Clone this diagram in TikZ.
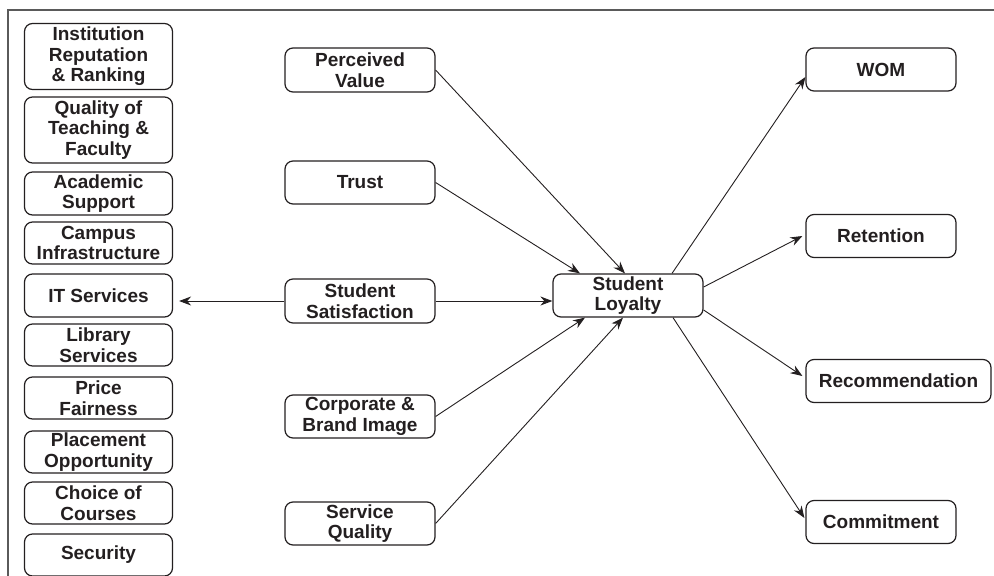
\documentclass[tikz,border=0pt]{standalone}
\usepackage{fontspec}
\setmainfont{Liberation Sans}
\usetikzlibrary{arrows.meta}
\definecolor{ink}{HTML}{231F20}
\definecolor{frame}{HTML}{5A5A5A}
\begin{document}
\begin{tikzpicture}[x=1pt,y=-1pt,
  box/.style={draw=ink,line width=1.2pt,rounded corners=8pt,inner sep=0pt,
    align=center,text=ink,font=\bfseries\fontsize{19}{20.5}\selectfont},
  lbox/.style={box,minimum width=148pt,minimum height=42pt},
  lbig/.style={box,minimum width=148pt,minimum height=66pt},
  mbox/.style={box,minimum width=150pt,minimum height=43pt},
  conn/.style={draw=ink,line width=0.9pt,-{Stealth[length=12pt,width=9pt]}}]
\useasboundingbox (0,0) rectangle (994,576);
% frame (clipped)
\draw[frame,line width=1.6pt] (8,576) -- (8,10) -- (994,10);
% left column
\node[lbig] (irr) at (98.5,56.5) {Institution\\Reputation\\\& Ranking};
\node[lbig] (qtf) at (98.5,130) {Quality of\\Teaching \&\\Faculty};
\node[lbox,minimum height=43pt] (acs) at (98.5,193.5) {Academic\\Support};
\node[lbox] (cin) at (98.5,243) {Campus\\Infrastructure};
\node[lbox,minimum height=43pt] (its) at (98.5,295.5) {IT Services};
\node[lbox] (lib) at (98.5,345) {Library\\Services};
\node[lbox] (prf) at (98.5,398) {Price\\Fairness};
\node[lbox] (plo) at (98.5,452) {Placement\\Opportunity};
\node[lbox] (coc) at (98.5,503) {Choice of\\Courses};
\node[lbox] (sec) at (98.5,555) {Security};
% middle column
\node[mbox,minimum height=44pt] (pv) at (360,70) {Perceived\\Value};
\node[mbox] (tr) at (360,182.5) {Trust};
\node[mbox,minimum height=44pt] (ss) at (360,301) {Student\\Satisfaction};
\node[mbox] (cbi) at (360,416.5) {Corporate \&\\Brand Image};
\node[mbox] (sq) at (360,523.5) {Service\\Quality};
% centre
\node[mbox] (sl) at (628,295.5) {Student\\Loyalty};
% right column
\node[mbox] (wom) at (881,69.5) {WOM};
\node[mbox] (ret) at (881,236) {Retention};
\node[mbox,minimum width=185pt] (rec) at (898.5,381) {Recommendation};
\node[mbox] (com) at (881,522) {Commitment};
% connectors
\draw[conn] (pv.east) -- ([xshift=-3pt]sl.north);
\draw[conn] (tr.east) -- ([xshift=-48pt]sl.north);
\draw[conn] (ss.east) -- (sl.west |- ss.east);
\draw[conn] (ss.west) -- ([xshift=6pt]its.east |- ss.west);
\draw[conn] (cbi.east) -- ([xshift=-43pt]sl.south);
\draw[conn] (sq.east) -- ([xshift=-5pt]sl.south);
\draw[conn] ([xshift=44pt]sl.north) -- ([yshift=-7.5pt]wom.west);
\draw[conn] ([yshift=8.5pt]sl.east) -- ([xshift=-3pt]ret.west);
\draw[conn] ([yshift=-14.5pt]sl.east) -- ([xshift=-3pt,yshift=5pt]rec.west);
\draw[conn] ([xshift=45pt]sl.south) -- ([xshift=-1pt,yshift=4pt]com.west);
\end{tikzpicture}
\end{document}
